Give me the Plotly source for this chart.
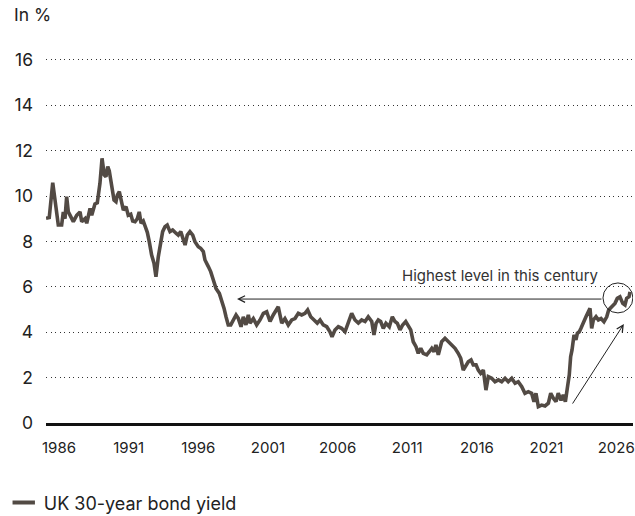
import plotly.graph_objects as go

# ---- data (decimal year on the chart's time axis, yield in %) ----
years = [
    1985.07, 1985.30, 1985.55, 1985.78, 1985.95, 1986.19, 1986.31, 1986.43, 1986.55, 1986.67,
    1986.79, 1987.03, 1987.27, 1987.51, 1987.63, 1987.87, 1987.99, 1988.23, 1988.35, 1988.58,
    1988.75, 1988.94, 1989.09, 1989.25, 1989.37, 1989.50, 1989.61, 1989.78, 1989.95, 1990.09,
    1990.19, 1990.33, 1990.50, 1990.62, 1990.81, 1990.97, 1991.15, 1991.29, 1991.46, 1991.62,
    1991.76, 1991.89, 1992.05, 1992.25, 1992.34, 1992.48, 1992.65, 1992.82, 1992.96, 1993.13,
    1993.30, 1993.44, 1993.61, 1993.77, 1993.97, 1994.16, 1994.40, 1994.56, 1994.74, 1994.88,
    1995.05, 1995.21, 1995.40, 1995.60, 1995.76, 1996.00, 1996.17, 1996.36, 1996.48, 1996.72,
    1996.89, 1997.08, 1997.27, 1997.51, 1997.68, 1997.85, 1997.99, 1998.15, 1998.33, 1998.51,
    1998.71, 1998.87, 1999.07, 1999.23, 1999.42, 1999.59, 1999.71, 1999.95, 2000.19, 2000.43,
    2000.67, 2000.91, 2001.15, 2001.38, 2001.63, 2001.74, 2001.99, 2002.22, 2002.46, 2002.71,
    2002.94, 2003.18, 2003.42, 2003.66, 2003.85, 2004.07, 2004.31, 2004.54, 2004.74, 2004.97,
    2005.22, 2005.45, 2005.60, 2005.81, 2006.05, 2006.29, 2006.53, 2006.77, 2007.01, 2007.25,
    2007.49, 2007.73, 2007.97, 2008.20, 2008.45, 2008.61, 2008.76, 2008.92, 2009.09, 2009.28,
    2009.47, 2009.71, 2009.93, 2010.12, 2010.29, 2010.48, 2010.67, 2010.89, 2011.08, 2011.25,
    2011.43, 2011.63, 2011.79, 2011.97, 2012.15, 2012.40, 2012.58, 2012.76, 2012.92, 2013.06,
    2013.23, 2013.47, 2013.71, 2013.95, 2014.19, 2014.43, 2014.66, 2014.84, 2015.02, 2015.22,
    2015.38, 2015.58, 2015.74, 2015.94, 2016.10, 2016.27, 2016.46, 2016.65, 2016.82, 2017.06,
    2017.30, 2017.54, 2017.78, 2018.02, 2018.25, 2018.50, 2018.74, 2018.97, 2019.22, 2019.45,
    2019.69, 2019.93, 2020.10, 2020.24, 2020.41, 2020.65, 2020.89, 2021.13, 2021.30, 2021.49,
    2021.68, 2021.84, 2022.04, 2022.20, 2022.35, 2022.49, 2022.63, 2022.73, 2022.83, 2022.97,
    2023.11, 2023.21, 2023.35, 2023.47, 2023.64, 2023.83, 2024.00, 2024.12, 2024.24, 2024.36,
    2024.55, 2024.72, 2024.91, 2025.12, 2025.32, 2025.46, 2025.68, 2025.91, 2026.08, 2026.27,
    2026.47, 2026.63, 2026.75, 2026.92, 2026.99,
]
yield_pct = [
    9.02, 9.05, 10.59, 9.53, 8.72, 8.72, 9.30, 9.00, 9.97, 9.30,
    9.15, 8.87, 9.15, 9.30, 8.87, 9.00, 8.80, 9.45, 9.15, 9.65,
    9.70, 10.56, 11.66, 10.93, 10.85, 11.30, 11.10, 10.56, 9.82, 9.75,
    10.04, 10.19, 9.75, 9.38, 9.53, 9.15, 9.20, 8.90, 8.87, 9.00,
    9.30, 8.80, 8.90, 8.55, 8.40, 7.99, 7.40, 7.04, 6.44, 7.33,
    7.99, 8.43, 8.65, 8.72, 8.43, 8.50, 8.36, 8.28, 8.43, 8.14,
    7.84, 8.28, 8.43, 8.28, 7.99, 7.77, 7.70, 7.55, 7.18, 6.89,
    6.67, 6.30, 5.93, 5.71, 5.42, 5.05, 4.68, 4.32, 4.32, 4.54,
    4.76, 4.61, 4.24, 4.68, 4.32, 4.76, 4.40, 4.60, 4.32, 4.54,
    4.83, 4.90, 4.47, 4.76, 5.05, 5.12, 4.40, 4.60, 4.32, 4.54,
    4.60, 4.83, 4.76, 4.83, 4.98, 4.68, 4.54, 4.40, 4.54, 4.32,
    4.24, 4.02, 3.80, 4.10, 4.24, 4.17, 4.02, 4.40, 4.83, 4.54,
    4.40, 4.54, 4.47, 4.68, 4.47, 3.88, 4.39, 4.54, 4.47, 4.17,
    4.39, 4.24, 4.68, 4.47, 4.39, 4.10, 4.32, 4.47, 4.24, 4.10,
    3.58, 3.36, 3.07, 3.29, 3.07, 3.00, 3.14, 3.29, 3.14, 3.44,
    3.00, 3.58, 3.73, 3.58, 3.44, 3.29, 3.07, 2.85, 2.33, 2.56,
    2.70, 2.78, 2.56, 2.56, 2.33, 2.19, 2.33, 1.45, 2.04, 1.97,
    1.82, 1.90, 1.82, 1.97, 1.82, 1.97, 1.75, 1.82, 1.60, 1.31,
    1.38, 1.31, 0.94, 1.31, 0.72, 0.79, 0.75, 0.87, 1.31, 1.09,
    0.94, 1.31, 1.00, 1.24, 0.94, 1.53, 2.11, 2.92, 3.22, 3.88,
    3.66, 3.95, 4.02, 4.17, 4.46, 4.68, 4.90, 5.05, 4.17, 4.54,
    4.68, 4.54, 4.60, 4.46, 4.68, 4.98, 5.12, 5.27, 5.49, 5.56,
    5.27, 5.20, 5.49, 5.56, 5.78,
]
tick_years = [1986, 1991, 1996, 2001, 2006, 2011, 2016, 2021, 2026]
tick_labels = [str(y) for y in tick_years]
y_ticks = [0, 2, 4, 6, 8, 10, 12, 14, 16]
series_name = "UK 30-year bond yield"
note_text = "Highest level in this century"

LINE = "#524a44"
TXT = "#222222"
FONT = "Inter"

fig = go.Figure()
fig.add_trace(go.Scatter(
    x=years, y=yield_pct, mode="lines",
    line=dict(color=LINE, width=3.6), showlegend=False,
    name=series_name,
))
# legend entry (short thick dash)
fig.add_trace(go.Scatter(
    x=[None], y=[None], mode="markers", name=series_name,
    marker=dict(symbol="line-ew", size=16, color=LINE,
                line=dict(color=LINE, width=4)),
    showlegend=True,
))

fig.update_layout(
    width=635, height=516,
    margin=dict(l=46, r=2, t=53, b=93, autoexpand=False),
    paper_bgcolor="white", plot_bgcolor="white",
    font=dict(family=FONT, color=TXT),
    xaxis=dict(
        range=[1985.067, 2027.206],
        tickvals=tick_years, ticktext=tick_labels,
        showgrid=False, zeroline=False,
        showline=True, linecolor="#111111", linewidth=2.5,
        ticks="", ticklabelstandoff=9,
        tickfont=dict(size=15, color=TXT, family=FONT),
    ),
    yaxis=dict(
        range=[0, 16.3],
        tickvals=y_ticks,
        showgrid=True, gridcolor="#333333", gridwidth=1, griddash="1px,3.5px",
        zeroline=False, showline=False, ticks="",
        ticklabelstandoff=12,
        tickfont=dict(size=17.5, color=TXT, family=FONT),
    ),
    legend=dict(
        orientation="h", xref="paper", yref="paper",
        x=-0.072, xanchor="left", y=-0.216, yanchor="middle",
        font=dict(size=18, color=TXT, family=FONT),
        bgcolor="rgba(0,0,0,0)",
    ),
    showlegend=True,
)

# y-axis unit label
fig.add_annotation(
    xref="paper", yref="paper", x=-0.058, y=1.105, xanchor="left", yanchor="middle",
    text="In %", showarrow=False, font=dict(size=17.5, color=TXT, family=FONT),
)
# note text
fig.add_annotation(
    xref="x", yref="y", x=2017.7, y=6.52, xanchor="center", yanchor="middle",
    text=note_text, showarrow=False, font=dict(size=15, color="#333333", family=FONT),
)
# horizontal arrow from circle to 1998
fig.add_annotation(
    xref="x", yref="y", x=1998.78, y=5.46, ax=2025.05, ay=5.46,
    axref="x", ayref="y", text="", showarrow=True,
    arrowhead=5, arrowsize=1.3, arrowwidth=1, arrowcolor="#222222",
)
# diagonal arrow pointing into the circle
fig.add_annotation(
    xref="x", yref="y", x=2026.55, y=4.36, ax=2022.8, ay=0.79,
    axref="x", ayref="y", text="", showarrow=True,
    arrowhead=5, arrowsize=1.3, arrowwidth=1, arrowcolor="#222222",
)
# circle highlight
fig.add_shape(
    type="circle", xref="x", yref="y",
    x0=2025.05, x1=2027.2, y0=4.85, y1=6.17,
    line=dict(color="#222222", width=1),
)

fig.write_html("out.html", config={"displayModeBar": False},
               post_script="document.body.style.margin='0';")
